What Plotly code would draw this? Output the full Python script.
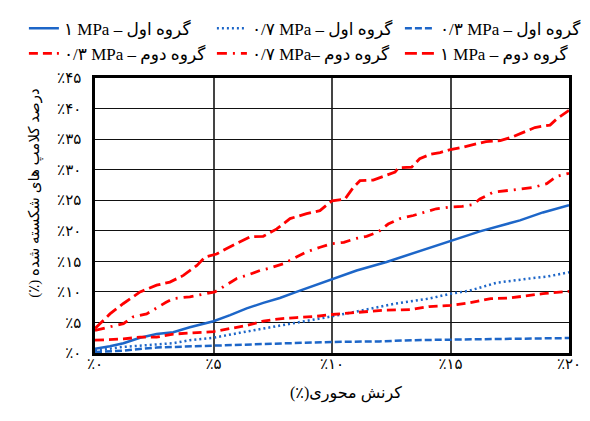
import plotly.graph_objects as go

# ---------------- data (axial strain %, crushed clump %) ----------------
# Group 1 (blue)
g1_1_x = [0, 0.63, 1.2, 1.9, 2.6, 3.3, 4.0, 5.0, 5.7, 6.4, 7.1, 7.8, 8.5, 9.35, 10.0, 11.04, 12.3, 13.57, 15.0, 16.24, 17.93, 18.9, 20.0]
g1_1_y = [0.7, 1.1, 1.6, 2.5, 3.1, 3.4, 4.2, 5.2, 6.2, 7.3, 8.2, 9.0, 10.0, 11.2, 12.1, 13.5, 14.9, 16.5, 18.3, 19.9, 21.7, 23.0, 24.2]

g1_07_x = [0, 1.2, 2.6, 3.3, 4.0, 5.0, 6.1, 7.1, 8.2, 9.07, 10.0, 11.3, 12.7, 14.1, 15.0, 15.8, 16.95, 18.35, 19.06, 20.0]
g1_07_y = [0.4, 1.0, 1.4, 1.6, 2.1, 2.5, 3.3, 4.0, 4.8, 5.3, 6.0, 7.0, 8.1, 8.9, 9.7, 10.2, 11.5, 12.2, 12.5, 13.2]

g1_03_x = [0, 1.2, 2.6, 4.0, 5.0, 6.8, 8.2, 10.0, 12.0, 13.4, 15.0, 16.95, 18.35, 20.0]
g1_03_y = [0.15, 0.4, 0.9, 1.1, 1.25, 1.5, 1.6, 1.8, 1.9, 2.1, 2.2, 2.2, 2.3, 2.45]

# Group 2 (red)
g2_03_x = [0, 1.2, 1.9, 2.6, 3.3, 4.0, 5.0, 5.7, 6.4, 7.1, 7.8, 8.5, 9.35, 10.0, 10.6, 11.3, 12.16, 13.3, 14.1, 15.0, 15.8, 16.7, 17.5, 18.07, 18.9, 20.0]
g2_03_y = [2.1, 2.3, 2.6, 2.6, 3.1, 3.3, 3.5, 4.0, 4.5, 5.2, 5.6, 5.8, 6.0, 6.3, 6.5, 6.7, 7.0, 7.1, 7.6, 7.8, 8.2, 8.9, 9.0, 9.3, 9.7, 10.1]

g2_07_x = [0, 1.2, 1.6, 2.18, 3.0, 3.3, 4.0, 4.7, 5.06, 5.4, 5.98, 6.4, 6.96, 7.3, 7.95, 8.5, 8.9, 9.5, 10.0, 10.5, 10.97, 11.46, 11.95, 12.37, 12.87, 13.43, 13.85, 14.4, 15.0, 15.5, 15.96, 16.24, 16.8, 17.37, 17.9, 18.5, 19.06, 19.48, 20.0]
g2_07_y = [3.7, 4.8, 5.9, 6.4, 8.3, 8.9, 9.2, 9.7, 10.0, 10.8, 12.2, 12.7, 13.5, 13.8, 14.6, 15.7, 16.5, 17.3, 17.9, 18.1, 18.7, 19.1, 19.8, 21.1, 22.0, 22.5, 23.0, 23.6, 23.9, 24.0, 24.3, 25.2, 26.3, 26.6, 26.9, 27.1, 27.7, 28.9, 29.4]

g2_1_x = [0, 0.63, 1.2, 1.9, 2.6, 3.16, 3.73, 4.29, 4.64, 5.13, 5.56, 5.98, 6.54, 7.1, 7.67, 8.23, 8.93, 9.49, 10.0, 10.55, 10.9, 11.18, 11.74, 12.24, 12.66, 12.8, 13.36, 13.7, 14.14, 14.56, 15.0, 15.54, 16.1, 16.5, 17.1, 17.58, 18.07, 18.56, 19.2, 19.48, 20.0]
g2_1_y = [4.0, 6.4, 8.1, 10.0, 11.1, 11.6, 12.7, 14.3, 15.7, 16.2, 17.1, 17.9, 19.0, 19.1, 20.3, 22.0, 22.8, 23.3, 24.9, 25.2, 27.1, 28.2, 28.3, 29.0, 29.6, 30.3, 30.4, 31.8, 32.5, 32.8, 33.3, 33.7, 34.2, 34.6, 34.75, 35.3, 36.1, 36.9, 37.3, 38.3, 39.7]

# ---------------- labels ----------------
LRM = "\u200e"
name_g1_1 = LRM + "۱ MPa – گروه اول"
name_g1_07 = LRM + "۰/۷ MPa – گروه اول"
name_g1_03 = LRM + "۰/۳ MPa – گروه اول"
name_g2_03 = LRM + "۰/۳ MPa – گروه دوم"
name_g2_07 = LRM + "۰/۷ MPa– گروه دوم"
name_g2_1 = LRM + "۱ MPa – گروه دوم"

x_tickvals = [0, 5, 10, 15, 20]
x_ticktext = ["٪۰", "٪۵", "٪۱۰", "٪۱۵", "٪۲۰"]
y_tickvals = [0, 5, 10, 15, 20, 25, 30, 35, 40, 45]
y_ticktext = ["٪۰", "٪۵", "٪۱۰", "٪۱۵", "٪۲۰", "٪۲۵", "٪۳۰", "٪۳۵", "٪۴۰", "٪۴۵"]

x_title = "(٪)کرنش محوری"
y_title = LRM + "(٪)" + LRM + " درصد کلامپ های شکسته شده"

BLUE = "#1D66C8"
RED = "#FF0000"
FONT = "Liberation Serif, DejaVu Sans, serif"

fig = go.Figure()
series = [
    (g1_1_x, g1_1_y, name_g1_1, BLUE, "solid", 2.5),
    (g1_07_x, g1_07_y, name_g1_07, BLUE, "2px,3px", 2.5),
    (g1_03_x, g1_03_y, name_g1_03, BLUE, "7px,3px", 2.5),
    (g2_03_x, g2_03_y, name_g2_03, RED, "9px,5px", 2.8),
    (g2_07_x, g2_07_y, name_g2_07, RED, "10px,6px,2px,6px", 2.8),
    (g2_1_x, g2_1_y, name_g2_1, RED, "12px,5px", 2.8),
]
for xs, ys, nm, col, dash, w in series:
    fig.add_trace(go.Scatter(x=xs, y=ys, mode="lines", name=nm,
                             line=dict(color=col, dash=dash, width=w)))

fig.update_layout(
    width=590, height=421,
    margin=dict(l=95, r=21, t=78, b=68, autoexpand=False),
    paper_bgcolor="white", plot_bgcolor="white",
    font=dict(family=FONT, size=15, color="black"),
    showlegend=True,
    legend=dict(orientation="h", x=-0.15, y=1.245, xanchor="left", yanchor="top",
                xref="paper", yref="paper",
                entrywidth=143, entrywidthmode="pixels",
                font=dict(family=FONT, size=17), tracegroupgap=0,
                bgcolor="rgba(0,0,0,0)"),
    xaxis=dict(range=[0, 20], tickvals=x_tickvals, ticktext=x_ticktext,
               showline=True, mirror=True, linecolor="black", linewidth=2.5,
               showgrid=True, gridcolor="#444444", gridwidth=1.5,
               zeroline=False, ticks="", ticklabelstandoff=-5,
               tickfont=dict(family=FONT, size=15)),
    yaxis=dict(range=[0, 45], tickvals=y_tickvals, ticktext=y_ticktext,
               showline=True, mirror=True, linecolor="black", linewidth=2.5,
               showgrid=True, gridcolor="#111111", gridwidth=1.3,
               zeroline=False, ticks="", ticklabelstandoff=8,
               tickfont=dict(family=FONT, size=15)),
    annotations=[
        dict(text=x_title, xref="paper", yref="paper", x=0.53, y=-0.147,
             showarrow=False, font=dict(family=FONT, size=16), xanchor="center", yanchor="middle"),
        dict(text=y_title, xref="paper", yref="paper", x=-0.127, y=0.582, textangle=-90,
             showarrow=False, font=dict(family=FONT, size=15), xanchor="center", yanchor="middle"),
    ],
)

fig.write_html("out.html")
